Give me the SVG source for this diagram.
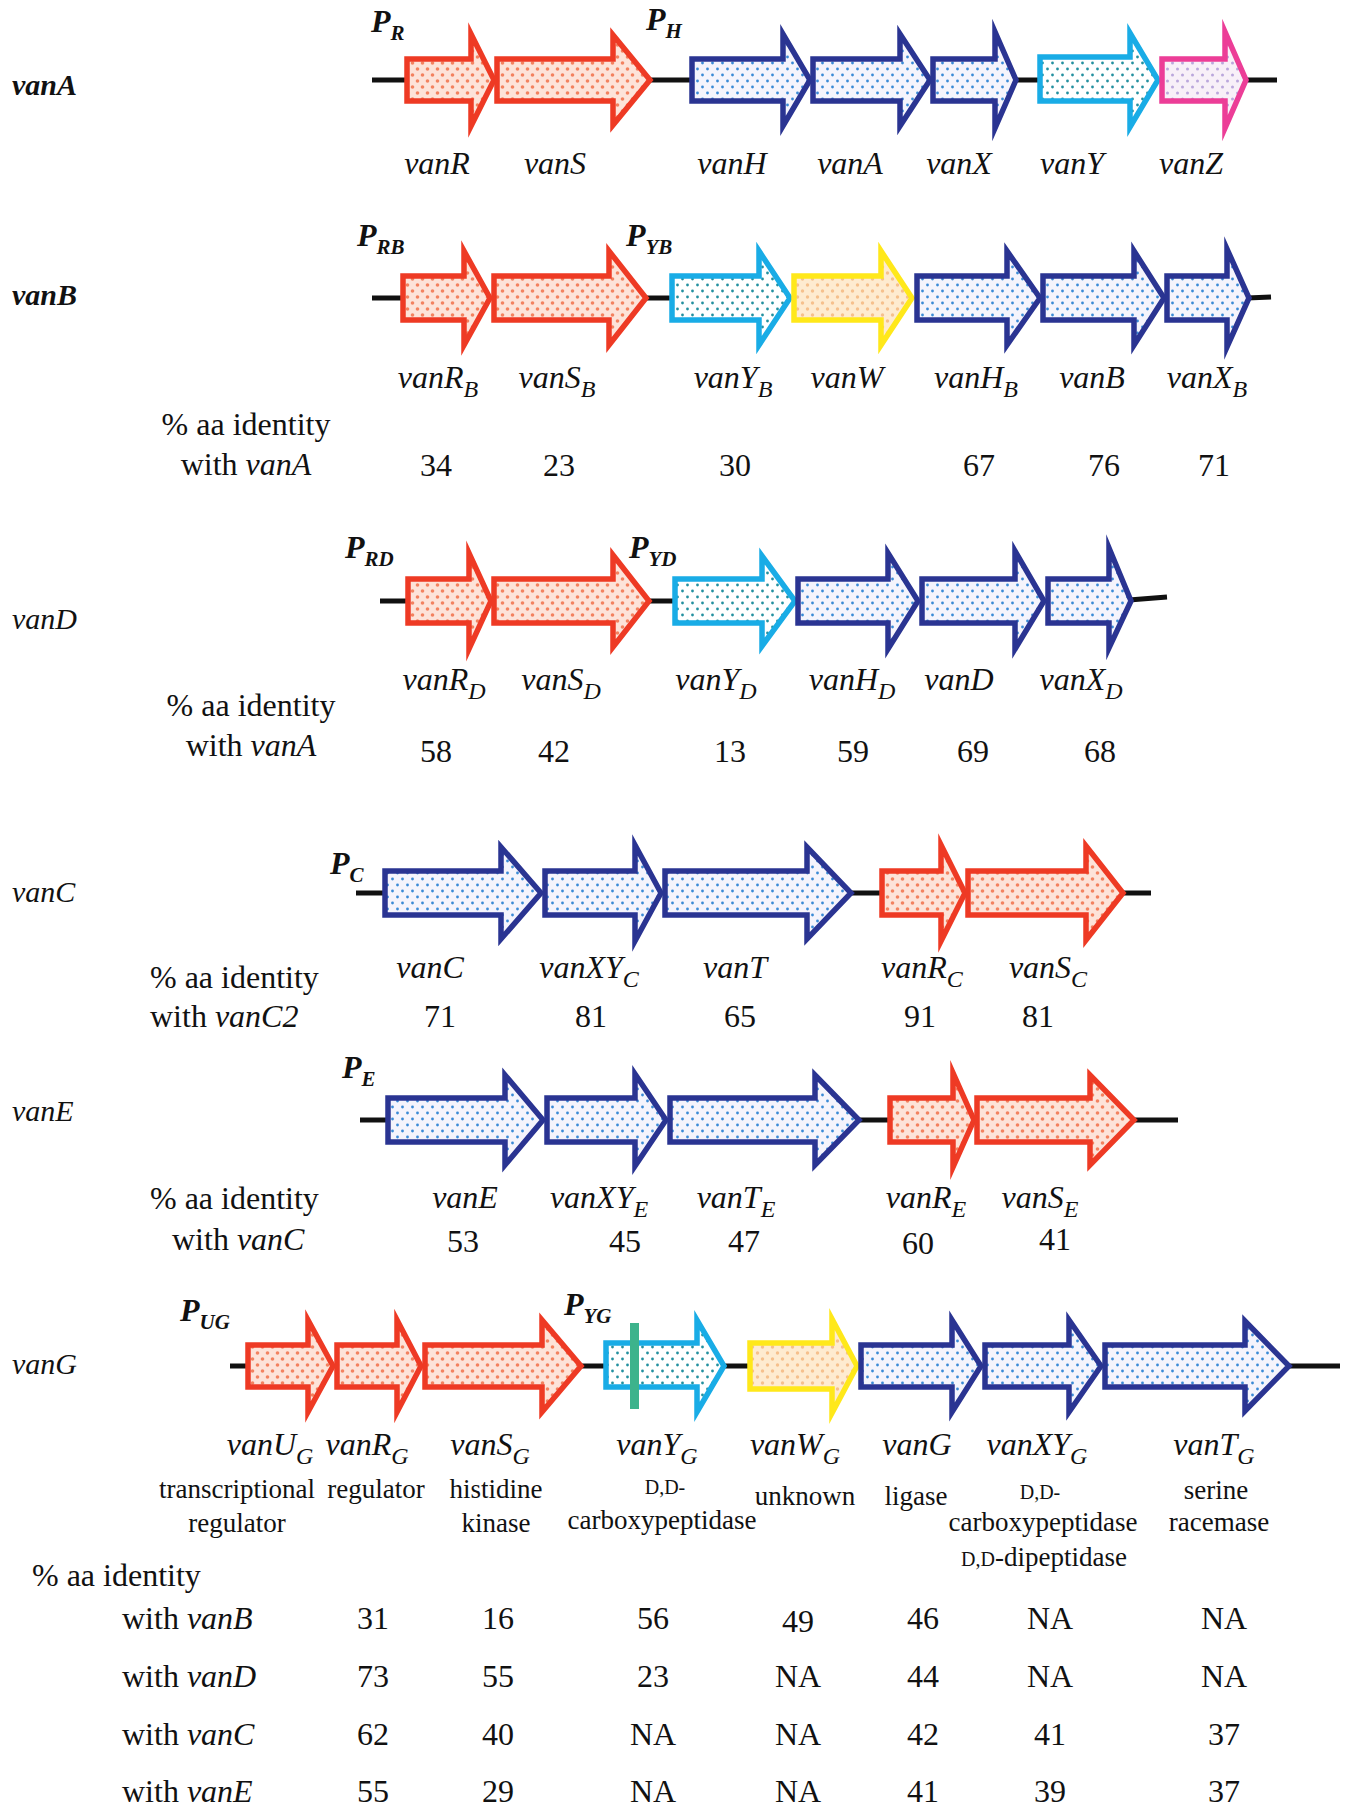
<svg xmlns="http://www.w3.org/2000/svg" width="1346" height="1807" viewBox="0 0 1346 1807">
  <defs>
    <!-- stippled fills for the gene arrows -->
    <pattern id="dotRed" width="10" height="12" patternUnits="userSpaceOnUse">
      <rect width="10" height="12" fill="#FDE3D9"/>
      <circle cx="2.5" cy="3" r="1.8" fill="#F3825F"/>
      <circle cx="7.5" cy="9" r="1.8" fill="#F3825F"/>
    </pattern>
    <pattern id="dotBlue" width="10" height="12" patternUnits="userSpaceOnUse">
      <rect width="10" height="12" fill="#F5F4FC"/>
      <circle cx="2.5" cy="3" r="1.4" fill="#3A8AD6"/>
      <circle cx="7.5" cy="9" r="1.4" fill="#3A8AD6"/>
    </pattern>
    <pattern id="dotCyan" width="10" height="12" patternUnits="userSpaceOnUse">
      <rect width="10" height="12" fill="#FFFFFF"/>
      <circle cx="2.5" cy="3" r="1.4" fill="#23909F"/>
      <circle cx="7.5" cy="9" r="1.4" fill="#23909F"/>
    </pattern>
    <pattern id="dotYellow" width="10" height="12" patternUnits="userSpaceOnUse">
      <rect width="10" height="12" fill="#FEEBD0"/>
      <circle cx="2.5" cy="3" r="1.7" fill="#F6C08C"/>
      <circle cx="7.5" cy="9" r="1.7" fill="#F6C08C"/>
    </pattern>
    <pattern id="dotMagenta" width="10" height="12" patternUnits="userSpaceOnUse">
      <rect width="10" height="12" fill="#F8F0F8"/>
      <circle cx="2.5" cy="3" r="1.5" fill="#BBA7DC"/>
      <circle cx="7.5" cy="9" r="1.5" fill="#BBA7DC"/>
    </pattern>
  </defs>
  <style>
    .arrow{stroke-width:5.5;stroke-linejoin:miter;stroke-miterlimit:10}
    .red{fill:url(#dotRed);stroke:#EE3A24}
    .blue{fill:url(#dotBlue);stroke:#2A3492}
    .cyan{fill:url(#dotCyan);stroke:#19ACE6}
    .yellow{fill:url(#dotYellow);stroke:#FFE81A}
    .magenta{fill:url(#dotMagenta);stroke:#EC3D97}
    .dna{stroke:#111;stroke-width:5;fill:none}
    text{font-family:"Liberation Serif","Times New Roman",serif;fill:#111}
    .gene{font-size:32px;font-style:italic;text-anchor:middle}
    .sub{font-size:24px}
    .prom{font-size:32px;font-weight:bold;font-style:italic}
    .psub{font-size:21px}
    .op{font-size:30px;font-style:italic}
    .bold{font-weight:bold}
    .txt{font-size:32px}
    .mid{text-anchor:middle}
    .it{font-style:italic}
    .fn{font-size:27px;text-anchor:middle}
    .sc{font-size:20px}
  </style>
  <rect width="1346" height="1807" fill="#FFFFFF"/>

  <!-- DNA backbone segments -->
  <g id="connectors">
    <line class="dna" x1="372" y1="80" x2="409" y2="80"/>
    <line class="dna" x1="648" y1="80" x2="694" y2="80"/>
    <line class="dna" x1="1014" y1="80" x2="1042" y2="80"/>
    <line class="dna" x1="1244" y1="80" x2="1277" y2="80"/>

    <line class="dna" x1="372" y1="298" x2="405" y2="298"/>
    <line class="dna" x1="644" y1="298" x2="674" y2="298"/>
    <line class="dna" x1="1247" y1="298" x2="1271" y2="297"/>

    <line class="dna" x1="380" y1="601" x2="410" y2="601"/>
    <line class="dna" x1="647" y1="601" x2="677" y2="601"/>
    <line class="dna" x1="1129" y1="600" x2="1167" y2="597"/>

    <line class="dna" x1="356" y1="893" x2="387" y2="893"/>
    <line class="dna" x1="849" y1="893" x2="884" y2="893"/>
    <line class="dna" x1="1121" y1="893" x2="1151" y2="893"/>

    <line class="dna" x1="360" y1="1120" x2="390" y2="1120"/>
    <line class="dna" x1="857" y1="1120" x2="892" y2="1120"/>
    <line class="dna" x1="1132" y1="1120" x2="1178" y2="1120"/>

    <line class="dna" x1="230" y1="1366" x2="250" y2="1366"/>
    <line class="dna" x1="579" y1="1366" x2="608" y2="1366"/>
    <line class="dna" x1="722" y1="1366" x2="752" y2="1366"/>
    <line class="dna" x1="1287" y1="1366" x2="1340" y2="1366"/>
  </g>

  <!-- vanA operon -->
  <g id="vanA-operon">
    <text class="op bold" x="12" y="95">vanA</text>
    <text class="prom" x="371" y="32">P<tspan class="psub" dy="8">R</tspan></text>
    <text class="prom" x="646" y="30">P<tspan class="psub" dy="8">H</tspan></text>
  </g>
  <g id="vanR">
    <polygon class="arrow red" points="407,59 471,59 471,34 494,80 471,126 471,101 407,101"/>
    <text class="gene" x="437" y="174">vanR</text>
  </g>
  <g id="vanS">
    <polygon class="arrow red" points="497,59 613,59 613,35 650,80 613,125 613,101 497,101"/>
    <text class="gene" x="555" y="174">vanS</text>
  </g>
  <g id="vanH">
    <polygon class="arrow blue" points="692,59 783,59 783,34 810,80 783,126 783,101 692,101"/>
    <text class="gene" x="732" y="174">vanH</text>
  </g>
  <g id="vanA">
    <polygon class="arrow blue" points="813,59 900,59 900,34 930,80 900,126 900,101 813,101"/>
    <text class="gene" x="850" y="174">vanA</text>
  </g>
  <g id="vanX">
    <polygon class="arrow blue" points="933,59 995,59 995,32 1016,80 995,128 995,101 933,101"/>
    <text class="gene" x="959" y="174">vanX</text>
  </g>
  <g id="vanY">
    <polygon class="arrow cyan" points="1040,57 1130,57 1130,33 1158,80 1130,127 1130,101 1040,101"/>
    <text class="gene" x="1072" y="174">vanY</text>
  </g>
  <g id="vanZ">
    <polygon class="arrow magenta" points="1162,59 1225,59 1225,32 1246,80 1225,128 1225,101 1162,101"/>
    <text class="gene" x="1191" y="174">vanZ</text>
  </g>

  <!-- vanB operon -->
  <g id="vanB-operon">
    <text class="op bold" x="12" y="305">vanB</text>
    <text class="prom" x="357" y="246">P<tspan class="psub" dy="8">RB</tspan></text>
    <text class="prom" x="626" y="246">P<tspan class="psub" dy="8">YB</tspan></text>
    <text class="txt mid" x="246" y="435">% aa identity</text>
    <text class="txt mid" x="246" y="475">with <tspan class="it">vanA</tspan></text>
  </g>
  <g id="vanRB">
    <polygon class="arrow red" points="403,276 464,276 464,251 490,298 464,345 464,320 403,320"/>
    <text class="gene" x="438" y="388">vanR<tspan class="sub" dy="9">B</tspan></text>
    <text class="txt mid" x="436" y="476">34</text>
  </g>
  <g id="vanSB">
    <polygon class="arrow red" points="494,276 609,276 609,251 646,298 609,345 609,320 494,320"/>
    <text class="gene" x="557" y="388">vanS<tspan class="sub" dy="9">B</tspan></text>
    <text class="txt mid" x="559" y="476">23</text>
  </g>
  <g id="vanYB">
    <polygon class="arrow cyan" points="672,276 759,276 759,251 790,298 759,345 759,320 672,320"/>
    <text class="gene" x="733" y="388">vanY<tspan class="sub" dy="9">B</tspan></text>
    <text class="txt mid" x="735" y="476">30</text>
  </g>
  <g id="vanW">
    <polygon class="arrow yellow" points="794,276 881,276 881,251 912,298 881,345 881,320 794,320"/>
    <text class="gene" x="847" y="388">vanW</text>
  </g>
  <g id="vanHB">
    <polygon class="arrow blue" points="917,276 1007,276 1007,251 1040,298 1007,345 1007,320 917,320"/>
    <text class="gene" x="976" y="388">vanH<tspan class="sub" dy="9">B</tspan></text>
    <text class="txt mid" x="979" y="476">67</text>
  </g>
  <g id="vanB">
    <polygon class="arrow blue" points="1043,276 1134,276 1134,251 1164,298 1134,345 1134,320 1043,320"/>
    <text class="gene" x="1092" y="388">vanB</text>
    <text class="txt mid" x="1104" y="476">76</text>
  </g>
  <g id="vanXB">
    <polygon class="arrow blue" points="1167,276 1227,276 1227,249 1249,298 1227,347 1227,320 1167,320"/>
    <text class="gene" x="1207" y="388">vanX<tspan class="sub" dy="9">B</tspan></text>
    <text class="txt mid" x="1214" y="476">71</text>
  </g>

  <!-- vanD operon -->
  <g id="vanD-operon">
    <text class="op" x="12" y="629">vanD</text>
    <text class="prom" x="345" y="558">P<tspan class="psub" dy="8">RD</tspan></text>
    <text class="prom" x="629" y="558">P<tspan class="psub" dy="8">YD</tspan></text>
    <text class="txt mid" x="251" y="716">% aa identity</text>
    <text class="txt mid" x="251" y="756">with <tspan class="it">vanA</tspan></text>
  </g>
  <g id="vanRD">
    <polygon class="arrow red" points="408,579 469,579 469,553 491,601 469,649 469,623 408,623"/>
    <text class="gene" x="444" y="690">vanR<tspan class="sub" dy="9">D</tspan></text>
    <text class="txt mid" x="436" y="762">58</text>
  </g>
  <g id="vanSD">
    <polygon class="arrow red" points="494,579 613,579 613,555 649,601 613,647 613,623 494,623"/>
    <text class="gene" x="561" y="690">vanS<tspan class="sub" dy="9">D</tspan></text>
    <text class="txt mid" x="554" y="762">42</text>
  </g>
  <g id="vanYD">
    <polygon class="arrow cyan" points="675,579 762,579 762,556 795,601 762,646 762,623 675,623"/>
    <text class="gene" x="716" y="690">vanY<tspan class="sub" dy="9">D</tspan></text>
    <text class="txt mid" x="730" y="762">13</text>
  </g>
  <g id="vanHD">
    <polygon class="arrow blue" points="798,579 888,579 888,553 918,601 888,649 888,623 798,623"/>
    <text class="gene" x="852" y="690">vanH<tspan class="sub" dy="9">D</tspan></text>
    <text class="txt mid" x="853" y="762">59</text>
  </g>
  <g id="vanD">
    <polygon class="arrow blue" points="922,579 1015,579 1015,551 1044,601 1015,649 1015,623 922,623"/>
    <text class="gene" x="959" y="690">vanD</text>
    <text class="txt mid" x="973" y="762">69</text>
  </g>
  <g id="vanXD">
    <polygon class="arrow blue" points="1048,579 1109,579 1109,548 1131,601 1109,648 1109,623 1048,623"/>
    <text class="gene" x="1081" y="690">vanX<tspan class="sub" dy="9">D</tspan></text>
    <text class="txt mid" x="1100" y="762">68</text>
  </g>

  <!-- vanC operon -->
  <g id="vanC-operon">
    <text class="op" x="12" y="902">vanC</text>
    <text class="prom" x="330" y="874">P<tspan class="psub" dy="8">C</tspan></text>
    <text class="txt" x="150" y="988">% aa identity</text>
    <text class="txt" x="150" y="1027">with <tspan class="it">vanC2</tspan></text>
  </g>
  <g id="vanC">
    <polygon class="arrow blue" points="385,871 501,871 501,847 541,893 501,939 501,915 385,915"/>
    <text class="gene" x="430" y="978">vanC</text>
    <text class="txt mid" x="440" y="1027">71</text>
  </g>
  <g id="vanXYC">
    <polygon class="arrow blue" points="545,871 635,871 635,845 661,893 635,941 635,915 545,915"/>
    <text class="gene" x="589" y="978">vanXY<tspan class="sub" dy="9">C</tspan></text>
    <text class="txt mid" x="591" y="1027">81</text>
  </g>
  <g id="vanT">
    <polygon class="arrow blue" points="665,871 807,871 807,847 851,893 807,939 807,915 665,915"/>
    <text class="gene" x="735" y="978">vanT</text>
    <text class="txt mid" x="740" y="1027">65</text>
  </g>
  <g id="vanRC">
    <polygon class="arrow red" points="882,871 941,871 941,845 965,893 941,941 941,915 882,915"/>
    <text class="gene" x="922" y="978">vanR<tspan class="sub" dy="9">C</tspan></text>
    <text class="txt mid" x="920" y="1027">91</text>
  </g>
  <g id="vanSC">
    <polygon class="arrow red" points="968,871 1086,871 1086,846 1123,893 1086,940 1086,915 968,915"/>
    <text class="gene" x="1048" y="978">vanS<tspan class="sub" dy="9">C</tspan></text>
    <text class="txt mid" x="1038" y="1027">81</text>
  </g>

  <!-- vanE operon -->
  <g id="vanE-operon">
    <text class="op" x="12" y="1121">vanE</text>
    <text class="prom" x="342" y="1078">P<tspan class="psub" dy="8">E</tspan></text>
    <text class="txt" x="150" y="1209">% aa identity</text>
    <text class="txt" x="172" y="1250">with <tspan class="it">vanC</tspan></text>
  </g>
  <g id="vanE">
    <polygon class="arrow blue" points="388,1098 505,1098 505,1075 543,1120 505,1165 505,1142 388,1142"/>
    <text class="gene" x="465" y="1208">vanE</text>
    <text class="txt mid" x="463" y="1252">53</text>
  </g>
  <g id="vanXYE">
    <polygon class="arrow blue" points="547,1098 635,1098 635,1074 666,1120 635,1166 635,1142 547,1142"/>
    <text class="gene" x="599" y="1208">vanXY<tspan class="sub" dy="9">E</tspan></text>
    <text class="txt mid" x="625" y="1252">45</text>
  </g>
  <g id="vanTE">
    <polygon class="arrow blue" points="670,1098 815,1098 815,1075 859,1120 815,1165 815,1142 670,1142"/>
    <text class="gene" x="736" y="1208">vanT<tspan class="sub" dy="9">E</tspan></text>
    <text class="txt mid" x="744" y="1252">47</text>
  </g>
  <g id="vanRE">
    <polygon class="arrow red" points="890,1098 953,1098 953,1073 974,1120 953,1167 953,1142 890,1142"/>
    <text class="gene" x="926" y="1208">vanR<tspan class="sub" dy="9">E</tspan></text>
    <text class="txt mid" x="918" y="1254">60</text>
  </g>
  <g id="vanSE">
    <polygon class="arrow red" points="977,1098 1090,1098 1090,1075 1134,1120 1090,1165 1090,1142 977,1142"/>
    <text class="gene" x="1040" y="1208">vanS<tspan class="sub" dy="9">E</tspan></text>
    <text class="txt mid" x="1055" y="1250">41</text>
  </g>

  <!-- vanG operon -->
  <g id="vanG-operon">
    <text class="op" x="12" y="1374">vanG</text>
    <text class="prom" x="180" y="1321">P<tspan class="psub" dy="8">UG</tspan></text>
    <text class="prom" x="564" y="1315">P<tspan class="psub" dy="8">YG</tspan></text>
  </g>
  <g id="vanUG">
    <polygon class="arrow red" points="248,1345 308,1345 308,1320 333,1366 308,1412 308,1387 248,1387"/>
    <text class="gene" x="270" y="1455">vanU<tspan class="sub" dy="9">G</tspan></text>
    <text class="fn" x="237" y="1498">transcriptional</text>
    <text class="fn" x="237" y="1532">regulator</text>
  </g>
  <g id="vanRG">
    <polygon class="arrow red" points="337,1345 397,1345 397,1320 421,1366 397,1412 397,1387 337,1387"/>
    <text class="gene" x="367" y="1455">vanR<tspan class="sub" dy="9">G</tspan></text>
    <text class="fn" x="376" y="1498">regulator</text>
  </g>
  <g id="vanSG">
    <polygon class="arrow red" points="425,1345 542,1345 542,1320 581,1366 542,1412 542,1387 425,1387"/>
    <text class="gene" x="490" y="1455">vanS<tspan class="sub" dy="9">G</tspan></text>
    <text class="fn" x="496" y="1498">histidine</text>
    <text class="fn" x="496" y="1532">kinase</text>
  </g>
  <g id="vanYG">
    <polygon class="arrow cyan" points="606,1343 697,1343 697,1320 724,1366 697,1412 697,1387 606,1387"/>
    <rect x="630" y="1323" width="9" height="86" fill="#3DB38C"/>
    <text class="gene" x="657" y="1455">vanY<tspan class="sub" dy="9">G</tspan></text>
    <text class="fn" x="665" y="1494"><tspan class="sc">D,D-</tspan></text>
    <text class="fn" x="662" y="1529">carboxypeptidase</text>
  </g>
  <g id="vanWG">
    <polygon class="arrow yellow" points="750,1343 832,1343 832,1319 857,1366 832,1413 832,1389 750,1389"/>
    <text class="gene" x="795" y="1455">vanW<tspan class="sub" dy="9">G</tspan></text>
    <text class="fn" x="805" y="1505">unknown</text>
  </g>
  <g id="vanG">
    <polygon class="arrow blue" points="861,1345 952,1345 952,1320 981,1366 952,1412 952,1387 861,1387"/>
    <text class="gene" x="917" y="1455">vanG</text>
    <text class="fn" x="916" y="1505">ligase</text>
  </g>
  <g id="vanXYG">
    <polygon class="arrow blue" points="985,1345 1069,1345 1069,1320 1101,1366 1069,1412 1069,1387 985,1387"/>
    <text class="gene" x="1037" y="1455">vanXY<tspan class="sub" dy="9">G</tspan></text>
    <text class="fn" x="1040" y="1499"><tspan class="sc">D,D-</tspan></text>
    <text class="fn" x="1043" y="1531">carboxypeptidase</text>
    <text class="fn" x="1044" y="1566"><tspan class="sc">D,D</tspan>-dipeptidase</text>
  </g>
  <g id="vanTG">
    <polygon class="arrow blue" points="1105,1345 1245,1345 1245,1321 1289,1366 1245,1411 1245,1387 1105,1387"/>
    <text class="gene" x="1214" y="1455">vanT<tspan class="sub" dy="9">G</tspan></text>
    <text class="fn" x="1216" y="1499">serine</text>
    <text class="fn" x="1219" y="1531">racemase</text>
  </g>

  <!-- identity table for vanG -->
  <g id="identity-table">
    <text class="txt" x="32" y="1586">% aa identity</text>
    <text class="txt" x="122" y="1629">with <tspan class="it">vanB</tspan></text>
    <text class="txt" x="122" y="1687">with <tspan class="it">vanD</tspan></text>
    <text class="txt" x="122" y="1745">with <tspan class="it">vanC</tspan></text>
    <text class="txt" x="122" y="1802">with <tspan class="it">vanE</tspan></text>

    <text class="txt mid" x="373" y="1629">31</text>
    <text class="txt mid" x="498" y="1629">16</text>
    <text class="txt mid" x="653" y="1629">56</text>
    <text class="txt mid" x="798" y="1632">49</text>
    <text class="txt mid" x="923" y="1629">46</text>
    <text class="txt mid" x="1050" y="1629">NA</text>
    <text class="txt mid" x="1224" y="1629">NA</text>

    <text class="txt mid" x="373" y="1687">73</text>
    <text class="txt mid" x="498" y="1687">55</text>
    <text class="txt mid" x="653" y="1687">23</text>
    <text class="txt mid" x="798" y="1687">NA</text>
    <text class="txt mid" x="923" y="1687">44</text>
    <text class="txt mid" x="1050" y="1687">NA</text>
    <text class="txt mid" x="1224" y="1687">NA</text>

    <text class="txt mid" x="373" y="1745">62</text>
    <text class="txt mid" x="498" y="1745">40</text>
    <text class="txt mid" x="653" y="1745">NA</text>
    <text class="txt mid" x="798" y="1745">NA</text>
    <text class="txt mid" x="923" y="1745">42</text>
    <text class="txt mid" x="1050" y="1745">41</text>
    <text class="txt mid" x="1224" y="1745">37</text>

    <text class="txt mid" x="373" y="1802">55</text>
    <text class="txt mid" x="498" y="1802">29</text>
    <text class="txt mid" x="653" y="1802">NA</text>
    <text class="txt mid" x="798" y="1802">NA</text>
    <text class="txt mid" x="923" y="1802">41</text>
    <text class="txt mid" x="1050" y="1802">39</text>
    <text class="txt mid" x="1224" y="1802">37</text>
  </g>
</svg>
